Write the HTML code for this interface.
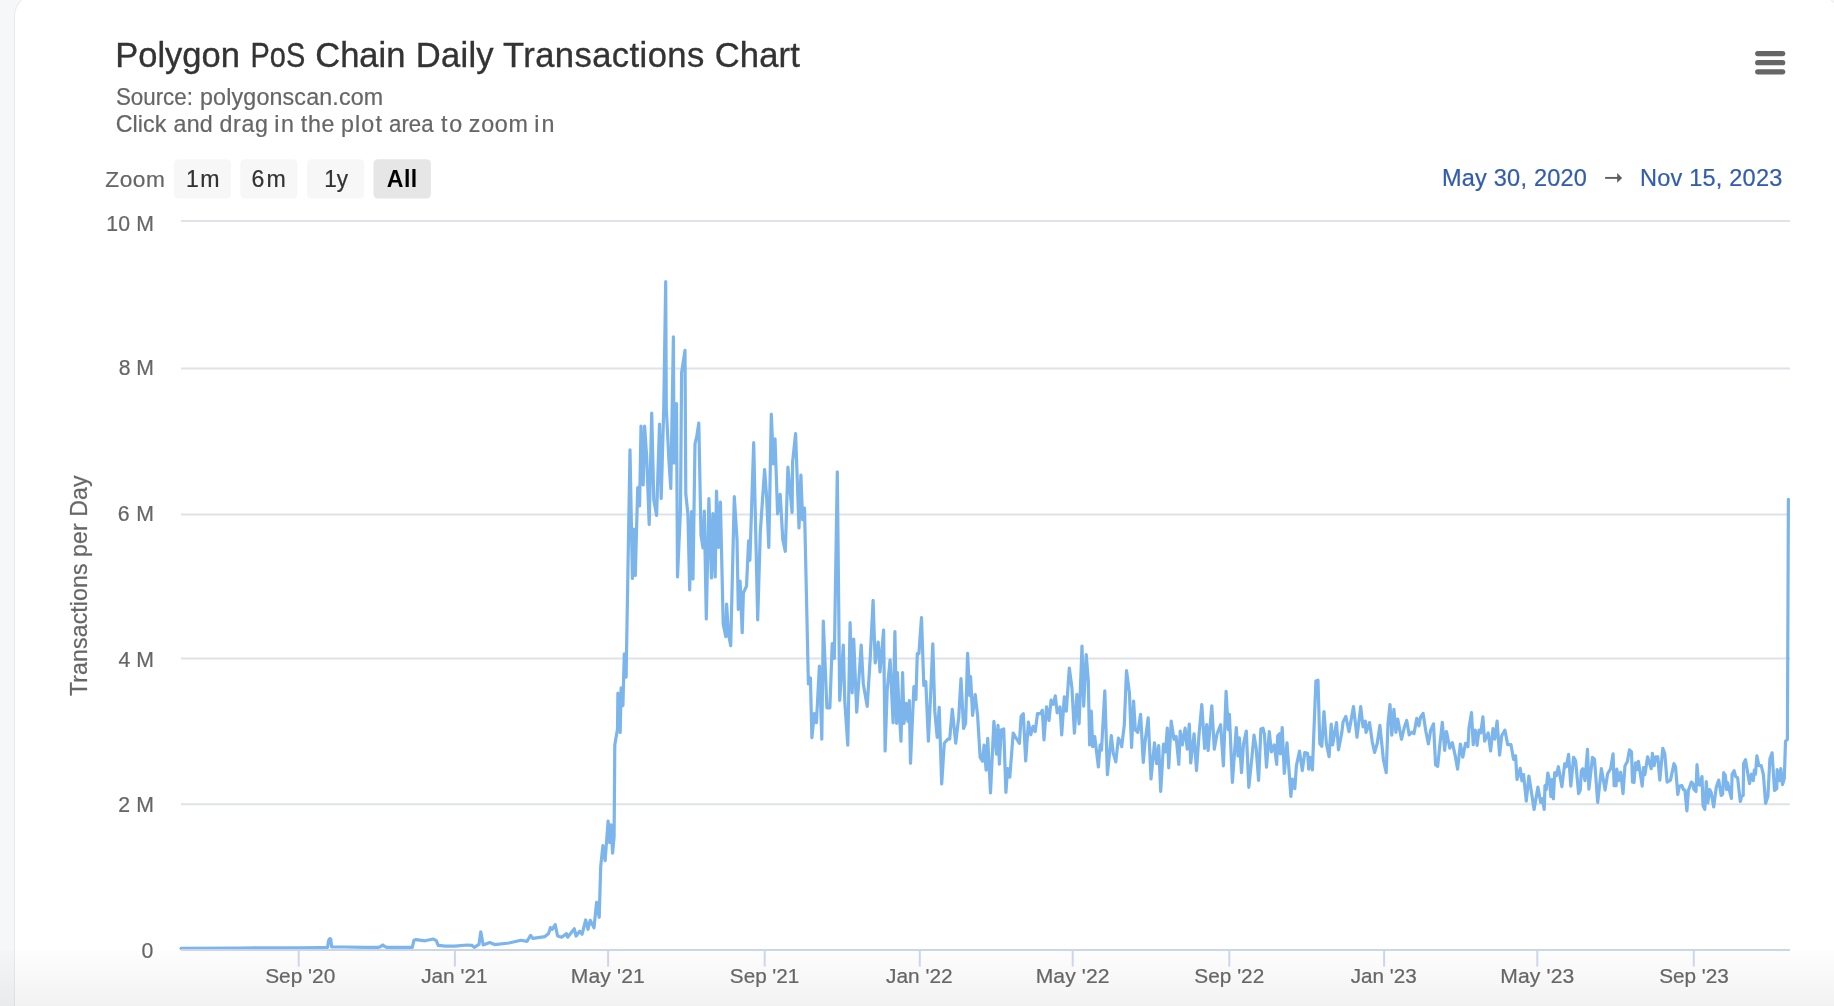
<!DOCTYPE html>
<html><head><meta charset="utf-8"><title>Polygon PoS Chain Daily Transactions Chart</title>
<style>
html,body{margin:0;padding:0;background:#f6f7f9;}
body{width:1834px;height:1006px;overflow:hidden;position:relative;font-family:"Liberation Sans",sans-serif;}
.card{position:absolute;left:14px;top:-6px;width:1825px;height:1040px;background:#fff;border:1px solid #e9eaee;border-radius:22px;box-sizing:border-box;overflow:hidden;}
.fade{position:absolute;left:0;width:1834px;top:951px;height:55px;background:linear-gradient(rgba(0,0,0,0.006),rgba(0,0,0,0.052));}
svg{position:absolute;left:0;top:0;will-change:transform;}
text{font-family:"Liberation Sans",sans-serif;}
</style></head><body>
<div class="card"></div><div class="fade"></div>
<svg width="1834" height="1006" viewBox="0 0 1834 1006">

<text x="115.17" y="66.80" font-size="34.59" fill="#333333" stroke="#333333" stroke-width="0.35" textLength="124.77" lengthAdjust="spacingAndGlyphs">Polygon</text>
<text x="250.53" y="66.80" font-size="34.59" fill="#333333" stroke="#333333" stroke-width="0.35" textLength="54.70" lengthAdjust="spacingAndGlyphs">PoS</text>
<text x="315.25" y="66.80" font-size="34.59" fill="#333333" stroke="#333333" stroke-width="0.35" textLength="90.19" lengthAdjust="spacingAndGlyphs">Chain</text>
<text x="415.76" y="66.80" font-size="34.59" fill="#333333" stroke="#333333" stroke-width="0.35" textLength="77.91" lengthAdjust="spacing">Daily</text>
<text x="503.02" y="66.80" font-size="34.59" fill="#333333" stroke="#333333" stroke-width="0.35" textLength="201.23" lengthAdjust="spacing">Transactions</text>
<text x="714.74" y="66.80" font-size="34.59" fill="#333333" stroke="#333333" stroke-width="0.35" textLength="85.11" lengthAdjust="spacing">Chart</text>
<text x="115.88" y="105.10" font-size="23.26" fill="#666666" stroke="#666666" stroke-width="0.22" textLength="77.06" lengthAdjust="spacingAndGlyphs">Source:</text>
<text x="200.00" y="105.10" font-size="23.26" fill="#666666" stroke="#666666" stroke-width="0.22" textLength="183.23" lengthAdjust="spacing">polygonscan.com</text>
<text x="115.72" y="131.90" font-size="23.26" fill="#666666" stroke="#666666" stroke-width="0.22" textLength="50.65" lengthAdjust="spacing">Click</text>
<text x="173.61" y="131.90" font-size="23.26" fill="#666666" stroke="#666666" stroke-width="0.22" textLength="39.19" lengthAdjust="spacing">and</text>
<text x="219.42" y="131.90" font-size="23.26" fill="#666666" stroke="#666666" stroke-width="0.22" textLength="48.58" lengthAdjust="spacing">drag</text>
<text x="274.24" y="131.90" font-size="23.26" fill="#666666" stroke="#666666" stroke-width="0.22" textLength="19.77" lengthAdjust="spacing">in</text>
<text x="300.85" y="131.90" font-size="23.26" fill="#666666" stroke="#666666" stroke-width="0.22" textLength="33.69" lengthAdjust="spacing">the</text>
<text x="341.00" y="131.90" font-size="23.26" fill="#666666" stroke="#666666" stroke-width="0.22" textLength="40.87" lengthAdjust="spacing">plot</text>
<text x="389.06" y="131.90" font-size="23.26" fill="#666666" stroke="#666666" stroke-width="0.22" textLength="44.44" lengthAdjust="spacingAndGlyphs">area</text>
<text x="441.05" y="131.90" font-size="23.26" fill="#666666" stroke="#666666" stroke-width="0.22" textLength="21.03" lengthAdjust="spacing">to</text>
<text x="468.86" y="131.90" font-size="23.26" fill="#666666" stroke="#666666" stroke-width="0.22" textLength="58.98" lengthAdjust="spacing">zoom</text>
<text x="534.14" y="131.90" font-size="23.26" fill="#666666" stroke="#666666" stroke-width="0.22" textLength="20.37" lengthAdjust="spacing">in</text>
<text x="105.28" y="186.90" font-size="22.67" fill="#666666" stroke="#666666" stroke-width="0.22" textLength="59.51" lengthAdjust="spacing">Zoom</text>
<rect x="174.0" y="159.3" width="57.0" height="39.3" rx="4.5" fill="#f7f7f7"/>
<text x="186.04" y="187.00" font-size="23.11" fill="#333333" stroke="#333333" stroke-width="0.22" textLength="33.58" lengthAdjust="spacing">1m</text>
<rect x="240.3" y="159.3" width="57.1" height="39.3" rx="4.5" fill="#f7f7f7"/>
<text x="251.53" y="187.00" font-size="23.11" fill="#333333" stroke="#333333" stroke-width="0.22" textLength="34.30" lengthAdjust="spacing">6m</text>
<rect x="307.1" y="159.3" width="57.0" height="39.3" rx="4.5" fill="#f7f7f7"/>
<text x="324.18" y="187.00" font-size="23.11" fill="#333333" stroke="#333333" stroke-width="0.22" textLength="23.87" lengthAdjust="spacingAndGlyphs">1y</text>
<rect x="373.5" y="159.3" width="57.4" height="39.3" rx="4.5" fill="#e6e6e6"/>
<text x="386.82" y="187.00" font-size="23.11" fill="#000000" stroke="#000000" stroke-width="0.00" font-weight="bold" textLength="30.41" lengthAdjust="spacing">All</text>
<text x="1441.97" y="186.20" font-size="23.55" fill="#335cad" stroke="#335cad" stroke-width="0.22" textLength="144.95" lengthAdjust="spacing">May 30, 2020</text>
<path d="M1605.1 177.9 H1618.5" stroke="#5e5e5e" stroke-width="1.9"/><path d="M1617.2 173.1 L1622.1 177.9 L1617.2 182.7 Z" fill="#5e5e5e"/>
<text x="1639.97" y="186.00" font-size="23.55" fill="#335cad" stroke="#335cad" stroke-width="0.22" textLength="142.37" lengthAdjust="spacing">Nov 15, 2023</text>
<path d="M1757.7 53.6 H1782.7" stroke="#666666" stroke-width="5.2" stroke-linecap="round"/>
<path d="M1757.7 62.7 H1782.7" stroke="#666666" stroke-width="5.2" stroke-linecap="round"/>
<path d="M1757.7 71.8 H1782.7" stroke="#666666" stroke-width="5.2" stroke-linecap="round"/>
<path d="M181 221.0 H1790" stroke="#dfe2e7" stroke-width="2"/>
<path d="M181 368.5 H1790" stroke="#dfe2e7" stroke-width="2"/>
<path d="M181 514.5 H1790" stroke="#dfe2e7" stroke-width="2"/>
<path d="M181 658.5 H1790" stroke="#dfe2e7" stroke-width="2"/>
<path d="M181 804.2 H1790" stroke="#dfe2e7" stroke-width="2"/>
<text x="106.28" y="230.90" font-size="21.22" fill="#666666" stroke="#666666" stroke-width="0.22" textLength="47.66" lengthAdjust="spacing">10 M</text>
<text x="118.68" y="375.00" font-size="21.22" fill="#666666" stroke="#666666" stroke-width="0.22" textLength="35.25" lengthAdjust="spacingAndGlyphs">8 M</text>
<text x="117.82" y="521.00" font-size="21.22" fill="#666666" stroke="#666666" stroke-width="0.22" textLength="36.12" lengthAdjust="spacing">6 M</text>
<text x="118.41" y="666.70" font-size="21.22" fill="#666666" stroke="#666666" stroke-width="0.22" textLength="35.53" lengthAdjust="spacing">4 M</text>
<text x="118.23" y="811.70" font-size="21.22" fill="#666666" stroke="#666666" stroke-width="0.22" textLength="35.71" lengthAdjust="spacing">2 M</text>
<text x="141.57" y="958.10" font-size="21.22" fill="#666666" stroke="#666666" stroke-width="0.22" textLength="11.86" lengthAdjust="spacing">0</text>
<text transform="translate(87.0 696.02) rotate(-90)" x="0" y="0" font-size="23.11" fill="#666666" stroke="#666666" stroke-width="0.22" textLength="220.66" lengthAdjust="spacing">Transactions per Day</text>
<path d="M298.7 950 V966.6" stroke="#ccd6eb" stroke-width="2"/>
<text x="265.15" y="983.00" font-size="21.08" fill="#666666" stroke="#666666" stroke-width="0.22" textLength="70.16" lengthAdjust="spacingAndGlyphs">Sep '20</text>
<path d="M454.9 950 V966.6" stroke="#ccd6eb" stroke-width="2"/>
<text x="421.18" y="983.00" font-size="21.08" fill="#666666" stroke="#666666" stroke-width="0.22" textLength="66.34" lengthAdjust="spacingAndGlyphs">Jan '21</text>
<path d="M608.1 950 V966.6" stroke="#ccd6eb" stroke-width="2"/>
<text x="570.77" y="983.00" font-size="21.08" fill="#666666" stroke="#666666" stroke-width="0.22" textLength="74.06" lengthAdjust="spacing">May '21</text>
<path d="M764.7 950 V966.6" stroke="#ccd6eb" stroke-width="2"/>
<text x="729.86" y="983.00" font-size="21.08" fill="#666666" stroke="#666666" stroke-width="0.22" textLength="69.45" lengthAdjust="spacingAndGlyphs">Sep '21</text>
<path d="M919.8 950 V966.6" stroke="#ccd6eb" stroke-width="2"/>
<text x="886.07" y="983.00" font-size="21.08" fill="#666666" stroke="#666666" stroke-width="0.22" textLength="66.47" lengthAdjust="spacingAndGlyphs">Jan '22</text>
<path d="M1072.7 950 V966.6" stroke="#ccd6eb" stroke-width="2"/>
<text x="1035.67" y="983.00" font-size="21.08" fill="#666666" stroke="#666666" stroke-width="0.22" textLength="73.89" lengthAdjust="spacing">May '22</text>
<path d="M1229.3 950 V966.6" stroke="#ccd6eb" stroke-width="2"/>
<text x="1194.36" y="983.00" font-size="21.08" fill="#666666" stroke="#666666" stroke-width="0.22" textLength="69.89" lengthAdjust="spacingAndGlyphs">Sep '22</text>
<path d="M1384.1 950 V966.6" stroke="#ccd6eb" stroke-width="2"/>
<text x="1350.78" y="983.00" font-size="21.08" fill="#666666" stroke="#666666" stroke-width="0.22" textLength="65.93" lengthAdjust="spacingAndGlyphs">Jan '23</text>
<path d="M1537.3 950 V966.6" stroke="#ccd6eb" stroke-width="2"/>
<text x="1500.27" y="983.00" font-size="21.08" fill="#666666" stroke="#666666" stroke-width="0.22" textLength="74.06" lengthAdjust="spacing">May '23</text>
<path d="M1693.8 950 V966.6" stroke="#ccd6eb" stroke-width="2"/>
<text x="1659.16" y="983.00" font-size="21.08" fill="#666666" stroke="#666666" stroke-width="0.22" textLength="69.65" lengthAdjust="spacingAndGlyphs">Sep '23</text>
<path d="M181.0 948.3 L240.0 948.0 L300.0 947.8 L320.0 947.5 L327.6 947.4 L328.4 941.5 L329.2 939.2 L330.0 938.6 L330.8 939.2 L331.6 946.9 L345.0 947.0 L365.0 947.3 L378.0 947.4 L380.8 946.4 L382.8 945.0 L384.6 946.4 L386.5 947.3 L400.0 947.3 L412.3 947.3 L414.0 940.2 L416.0 939.6 L425.0 940.8 L433.4 939.0 L436.4 940.8 L438.2 945.3 L445.4 946.2 L455.0 946.2 L467.0 945.0 L471.8 945.3 L474.2 947.4 L479.0 944.4 L480.8 931.8 L483.2 945.0 L489.8 942.6 L494.6 944.6 L509.0 943.0 L521.0 940.2 L527.0 941.4 L530.6 935.4 L533.0 938.4 L545.0 936.6 L548.6 933.6 L550.4 927.6 L552.2 929.4 L555.2 924.6 L557.6 936.0 L561.7 937.2 L566.5 933.6 L567.7 937.2 L574.3 928.8 L576.1 936.0 L579.7 931.2 L582.1 934.2 L585.7 920.0 L588.0 929.3 L590.2 920.3 L594.0 927.8 L596.6 902.4 L599.2 917.3 L600.7 866.6 L602.9 845.7 L605.1 860.6 L608.1 821.0 L609.6 842.7 L611.1 824.8 L612.6 853.1 L614.1 836.7 L614.8 745.0 L617.5 729.0 L617.9 693.2 L620.2 732.5 L621.1 687.9 L622.9 705.7 L624.3 653.9 L626.1 677.1 L630.0 449.8 L632.4 578.5 L633.6 529.0 L635.3 575.5 L637.7 487.5 L639.6 506.0 L641.0 426.0 L643.2 485.0 L644.6 426.0 L646.7 457.0 L649.2 524.5 L651.7 413.0 L653.8 500.0 L656.6 515.5 L659.5 424.0 L661.2 498.5 L663.8 406.0 L665.7 281.5 L666.3 408.0 L669.0 462.0 L670.8 488.5 L673.4 336.8 L674.0 463.0 L676.5 403.5 L677.5 577.0 L680.5 509.0 L681.6 372.7 L685.0 350.4 L685.8 494.0 L687.9 514.0 L689.7 590.0 L691.5 511.5 L693.0 579.0 L695.0 444.0 L696.8 436.0 L698.8 423.0 L701.0 535.0 L703.0 548.0 L704.3 511.0 L706.3 619.0 L708.9 498.5 L711.5 578.0 L712.9 513.5 L715.2 577.0 L716.5 491.0 L718.6 547.5 L720.4 502.0 L723.2 624.0 L725.8 636.6 L726.6 604.0 L728.5 634.0 L730.7 645.7 L734.3 496.5 L737.0 539.6 L738.3 609.5 L740.1 581.0 L742.2 632.7 L743.4 592.7 L746.5 586.2 L748.6 540.9 L749.9 560.3 L753.7 442.7 L757.7 619.8 L760.3 531.9 L764.6 469.5 L766.7 498.3 L768.8 547.4 L771.3 414.2 L773.5 464.0 L775.0 438.8 L777.6 513.8 L780.2 494.4 L782.8 539.6 L785.3 551.3 L787.9 467.0 L792.1 512.5 L792.6 462.0 L795.6 433.7 L799.0 528.0 L800.9 475.0 L802.6 519.7 L804.5 508.0 L808.4 683.9 L810.4 677.9 L811.9 737.6 L814.3 713.7 L816.4 722.7 L819.4 666.0 L821.8 739.1 L823.3 621.2 L826.9 707.8 L829.9 707.8 L832.2 643.6 L834.3 658.5 L837.3 471.9 L839.7 700.3 L843.3 645.1 L844.8 701.8 L847.8 745.1 L850.1 622.7 L852.2 692.8 L853.7 639.1 L856.7 712.2 L861.2 645.1 L863.3 683.9 L867.2 706.3 L870.1 660.0 L873.1 600.3 L875.2 663.0 L878.2 642.1 L880.0 672.0 L883.6 630.1 L885.1 751.0 L887.2 689.9 L890.1 660.0 L893.1 722.7 L894.9 631.6 L896.6 723.3 L897.4 672.6 L899.0 707.4 L901.0 741.2 L902.6 672.6 L904.0 723.3 L906.0 703.4 L907.9 721.3 L909.3 700.5 L910.5 763.1 L913.9 686.5 L915.9 699.5 L917.3 653.7 L918.9 653.7 L921.5 617.5 L923.8 685.5 L925.8 681.6 L928.4 741.2 L930.4 699.5 L932.8 643.8 L934.8 711.4 L937.2 737.3 L939.2 707.4 L941.7 784.0 L944.3 743.2 L947.7 739.2 L949.7 739.2 L952.3 709.4 L955.7 743.2 L958.7 717.4 L961.0 678.6 L963.6 728.3 L965.6 723.3 L967.6 653.3 L969.6 695.5 L970.6 676.6 L972.6 715.4 L975.2 694.5 L977.6 715.4 L980.1 757.2 L982.5 761.1 L984.1 745.2 L986.1 770.1 L987.7 738.3 L990.5 793.0 L993.9 721.3 L996.5 754.2 L998.0 725.3 L999.4 764.1 L1001.2 730.0 L1003.7 728.9 L1005.9 792.3 L1007.6 768.7 L1009.8 777.1 L1013.2 733.1 L1016.1 738.2 L1019.4 743.3 L1021.1 716.2 L1023.3 713.7 L1025.7 761.0 L1028.4 722.2 L1030.8 734.8 L1033.0 726.4 L1035.2 731.5 L1037.5 713.7 L1040.6 713.7 L1042.3 710.3 L1044.0 739.9 L1046.5 706.9 L1049.0 720.5 L1051.1 700.2 L1053.3 704.4 L1055.3 695.9 L1057.2 712.9 L1060.0 706.9 L1061.7 734.8 L1064.3 696.8 L1066.3 711.2 L1069.3 668.0 L1071.9 687.5 L1074.4 733.1 L1076.9 694.3 L1079.1 723.8 L1082.0 646.1 L1083.7 706.1 L1086.2 654.5 L1088.3 680.7 L1089.6 745.0 L1091.3 711.2 L1092.7 746.7 L1094.7 736.5 L1098.4 767.0 L1100.1 745.0 L1101.5 750.1 L1104.8 690.9 L1107.4 774.6 L1111.3 735.7 L1113.3 753.4 L1115.8 761.9 L1118.4 738.2 L1120.4 741.6 L1121.7 746.7 L1124.3 724.7 L1126.5 670.6 L1129.4 692.6 L1131.6 747.5 L1133.6 701.0 L1135.3 729.8 L1137.8 732.4 L1140.6 714.3 L1143.3 762.3 L1145.0 742.1 L1148.2 717.8 L1151.0 779.0 L1154.5 742.8 L1156.6 763.7 L1158.7 745.6 L1160.7 791.5 L1163.5 744.2 L1165.6 751.8 L1167.3 728.2 L1168.7 767.8 L1171.2 721.2 L1174.0 739.3 L1176.1 736.5 L1178.8 764.4 L1180.2 731.0 L1182.3 744.9 L1185.1 728.2 L1187.2 749.1 L1189.3 724.0 L1190.7 763.0 L1194.1 733.8 L1196.5 770.6 L1199.0 735.1 L1201.8 704.5 L1204.6 748.4 L1206.7 724.7 L1208.1 750.5 L1211.8 705.9 L1214.3 749.1 L1217.1 733.8 L1220.6 724.7 L1223.4 765.8 L1226.1 691.3 L1228.2 729.6 L1229.4 714.3 L1232.4 782.5 L1236.3 727.5 L1238.0 756.0 L1239.4 737.9 L1241.5 772.7 L1243.5 744.2 L1246.3 731.0 L1248.8 787.3 L1251.9 757.4 L1254.0 735.1 L1256.1 747.7 L1258.6 780.4 L1260.9 728.9 L1263.0 728.2 L1264.4 733.8 L1266.5 767.2 L1269.3 731.7 L1271.4 751.8 L1274.2 744.9 L1276.7 764.4 L1277.7 735.8 L1279.5 733.8 L1280.4 753.9 L1282.2 727.5 L1284.3 773.4 L1287.0 742.8 L1290.9 796.4 L1292.3 779.0 L1294.8 788.7 L1296.4 765.8 L1299.5 751.1 L1302.3 770.6 L1304.8 752.5 L1307.6 753.2 L1308.7 769.2 L1310.4 757.4 L1312.4 769.9 L1315.9 680.9 L1318.0 680.2 L1319.8 743.5 L1321.8 746.3 L1324.0 711.5 L1326.4 743.5 L1329.1 756.7 L1331.2 724.0 L1332.6 744.9 L1336.5 722.6 L1338.5 749.8 L1341.7 733.1 L1343.1 721.9 L1345.8 716.4 L1349.0 731.7 L1351.4 718.4 L1353.5 706.6 L1357.0 737.2 L1360.7 706.6 L1363.0 726.8 L1365.3 721.2 L1366.0 732.4 L1369.5 722.6 L1372.3 742.1 L1374.6 752.5 L1377.2 743.5 L1379.9 725.4 L1383.4 759.5 L1386.2 772.7 L1388.0 723.3 L1390.0 704.5 L1391.8 735.1 L1393.9 709.4 L1395.9 732.4 L1397.7 719.1 L1401.5 739.3 L1404.3 727.5 L1406.7 720.4 L1409.2 735.0 L1411.7 732.2 L1414.0 733.6 L1416.8 718.3 L1418.9 725.9 L1420.6 716.9 L1423.1 713.4 L1425.9 731.5 L1428.4 744.0 L1430.7 730.1 L1433.5 723.8 L1435.6 764.9 L1437.7 766.3 L1439.8 745.4 L1442.3 722.4 L1444.7 750.3 L1446.5 731.5 L1449.8 748.2 L1452.3 742.6 L1455.1 755.1 L1457.6 769.1 L1460.4 744.0 L1462.8 757.2 L1465.5 743.3 L1467.9 746.8 L1469.0 728.0 L1471.5 712.7 L1473.2 744.7 L1475.3 730.1 L1477.1 745.4 L1479.0 730.1 L1480.8 732.9 L1482.9 716.9 L1484.6 741.2 L1488.2 732.9 L1490.6 751.0 L1493.0 728.7 L1494.8 739.1 L1497.1 721.1 L1499.6 755.1 L1501.7 735.7 L1504.9 730.1 L1507.7 744.7 L1511.0 744.7 L1513.5 759.3 L1515.6 755.8 L1517.0 779.5 L1520.2 768.4 L1521.9 780.9 L1523.6 774.6 L1526.3 801.1 L1528.9 776.0 L1534.1 809.4 L1537.9 787.2 L1540.7 802.5 L1542.5 798.6 L1544.2 809.5 L1545.0 785.6 L1546.2 789.6 L1547.8 773.2 L1549.4 779.7 L1550.9 796.6 L1552.1 779.7 L1553.4 799.0 L1554.7 772.7 L1556.4 775.7 L1558.4 766.7 L1561.9 786.6 L1564.7 763.8 L1566.3 766.7 L1568.6 754.3 L1570.8 786.1 L1573.6 757.3 L1575.6 760.8 L1578.6 793.6 L1580.3 790.1 L1581.3 770.7 L1582.8 768.7 L1585.0 780.7 L1587.5 749.3 L1588.9 789.1 L1592.5 757.3 L1594.5 759.3 L1597.7 802.5 L1601.4 768.7 L1605.1 790.1 L1607.6 773.7 L1610.6 768.7 L1613.1 753.8 L1614.1 785.6 L1616.1 785.6 L1616.8 769.2 L1618.6 780.7 L1620.7 772.2 L1623.0 793.6 L1625.0 765.7 L1627.3 761.8 L1629.5 749.8 L1631.5 751.8 L1632.5 782.1 L1634.0 782.6 L1635.5 762.8 L1636.9 769.7 L1638.4 761.3 L1642.2 786.1 L1643.6 767.7 L1644.9 774.7 L1647.6 756.8 L1649.4 762.8 L1651.2 768.7 L1652.4 753.3 L1654.1 765.7 L1655.8 756.8 L1657.8 756.8 L1659.8 780.2 L1662.8 748.3 L1664.8 753.8 L1667.1 782.1 L1670.5 780.2 L1674.0 763.7 L1675.5 766.7 L1677.8 794.5 L1679.4 786.1 L1681.9 785.6 L1683.4 789.6 L1684.9 790.1 L1686.9 810.9 L1688.4 790.5 L1691.4 782.1 L1692.9 783.6 L1693.8 789.1 L1696.0 791.5 L1697.0 764.7 L1698.8 784.6 L1699.8 785.1 L1702.0 776.6 L1703.0 805.5 L1704.8 809.4 L1706.3 781.6 L1707.8 803.0 L1709.7 789.6 L1711.2 792.5 L1713.7 806.9 L1716.2 787.6 L1718.7 780.1 L1721.2 795.5 L1722.7 794.0 L1723.7 772.7 L1725.4 775.6 L1726.6 789.6 L1727.6 782.6 L1731.4 798.5 L1732.1 774.2 L1734.1 770.7 L1735.6 776.6 L1737.6 777.6 L1740.3 801.5 L1741.7 796.0 L1743.2 795.5 L1743.6 763.7 L1745.5 759.7 L1747.5 771.7 L1749.5 783.6 L1751.5 774.2 L1753.3 780.6 L1754.3 770.2 L1755.5 774.2 L1756.9 755.8 L1758.9 765.7 L1761.2 765.7 L1763.4 774.7 L1765.6 803.5 L1767.9 796.5 L1769.9 758.8 L1772.1 752.8 L1774.5 790.5 L1776.8 788.6 L1777.1 769.7 L1779.3 780.6 L1780.8 768.7 L1782.5 784.6 L1784.3 778.6 L1785.5 741.4 L1787.4 739.4 L1788.4 499.4" fill="none" stroke="#7cb5ec" stroke-width="3.2" stroke-linejoin="round" stroke-linecap="round"/>
<path d="M181 950.1 H1790" stroke="#ccd6eb" stroke-width="2"/>
</svg>
</body></html>
